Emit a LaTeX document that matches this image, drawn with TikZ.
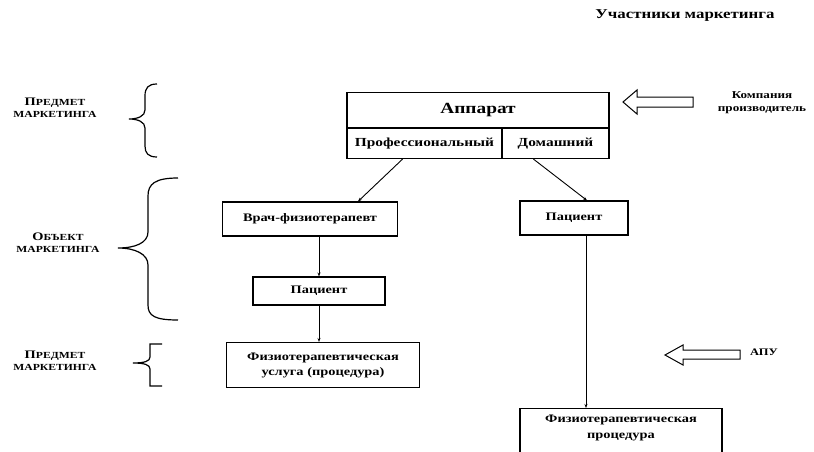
\documentclass[tikz,border=0pt]{standalone}
\usepackage{fontspec}
\setmainfont{Liberation Serif}[FakeStretch=1.25]
\usetikzlibrary{calc,arrows.meta}
\begin{document}
\begin{tikzpicture}[x=1pt,y=-1pt,
  box/.style={draw,line width=1.1pt,inner sep=0pt,font=\bfseries\fontsize{11.5}{13}\selectfont,align=center},
  txt/.style={inner sep=0pt,font=\bfseries\fontsize{11.5}{16}\selectfont,align=center},
  side/.style={inner sep=0pt,font=\bfseries\fontsize{9.3}{12}\selectfont,align=center},
  conn/.style={line width=0.9pt,-{Stealth[length=4pt,width=3pt]}},
  brace/.style={line width=1.2pt},
  hollow/.style={line width=1pt,line join=miter}]
\useasboundingbox (0,0) rectangle (814,452);
\fill[white] (0,0) rectangle (814,452);

% title
\node[txt,font=\bfseries\fontsize{13.5}{15}\selectfont] (title) at (685,16) {Участники маркетинга};

% apparatus block
\node[box,minimum width=262,minimum height=35,font=\bfseries\fontsize{15.5}{17}\selectfont] (app) at (478,110) {Аппарат};
\node[box,minimum width=155,minimum height=30,anchor=north west,font=\bfseries\fontsize{12.3}{14}\selectfont] (prof) at (app.south west) {Профессиональный};
\node[box,minimum width=107,minimum height=30,anchor=north east,font=\bfseries\fontsize{12.3}{14}\selectfont] (dom) at (app.south east) {Домашний};

% left branch
\node[box,minimum width=175,minimum height=34] (vrach) at (310,219) {Врач-физиотерапевт};
\node[box,minimum width=132,minimum height=28] (pat1) at (319,291) {Пациент};
\node[box,minimum width=193,minimum height=45] (usl) at (323,365) {Физиотерапевтическая\\[2pt]услуга (процедура)};

% right branch
\node[box,minimum width=108,minimum height=34] (pat2) at (574,218) {Пациент};
\node[box,minimum width=202,minimum height=60,anchor=north] (fp) at (621,408) {};
\node[txt] (fpt) at (621,428) {Физиотерапевтическая\\процедура};

% connectors
\draw[conn] ($(prof.south)+(-22,0)$) -- ($(vrach.north)+(48,0)$);
\draw[conn] ($(dom.south)+(-22,0)$) -- ($(pat2.north)+(13,0)$);
\draw[conn] (pat1.north |- vrach.south) -- (pat1.north);
\draw[conn] (pat1.south) coordinate (u1) -- (u1 |- usl.north);
\draw[conn] ($(pat2.south)+(12,0)$) coordinate (v1) -- (v1 |- fp.north);

% hollow arrows
\draw[hollow] (623,102) -- (637,90) -- (637,97) -- (693,97) -- (693,107) -- (637,107) -- (637,114) -- cycle;
\node[txt,font=\bfseries\fontsize{10.5}{13}\selectfont] (comp) at (762,103) {Компания\\производитель};
\draw[hollow] (665,355) -- (683,345) -- (683,350) -- (740,350) -- (740,359) -- (683,359) -- (683,365) -- cycle;
\node[txt,font=\bfseries\fontsize{10}{12}\selectfont] (apu) at (764,352) {АПУ};

% side labels
\node[side] (l1) at (55,108) {{\fontsize{11.5}{12}\selectfont П}РЕДМЕТ\\МАРКЕТИНГА};
\node[side] (l2) at (58,243) {{\fontsize{11.5}{12}\selectfont О}БЪЕКТ\\МАРКЕТИНГА};
\node[side] (l3) at (55,361) {{\fontsize{11.5}{12}\selectfont П}РЕДМЕТ\\МАРКЕТИНГА};

% braces
\draw[brace] (157,84) .. controls (148,84) and (145,88) .. (145,96) -- (145,110)
  .. controls (145,116) and (138,119) .. (129,119)
  .. controls (138,119) and (145,122) .. (145,128) -- (145,146)
  .. controls (145,153) and (148,157) .. (157,157);
\draw[brace] (178,178) .. controls (155,178) and (148,184) .. (148,196) -- (148,232)
  .. controls (148,243) and (135,248) .. (118,248)
  .. controls (135,248) and (148,254) .. (148,265) -- (148,305)
  .. controls (148,316) and (155,320) .. (178,320);
\draw[brace] (162,344) -- (150,344) -- (150,357) .. controls (150,361) and (145,363) .. (133,363)
  .. controls (145,363) and (150,365) .. (150,369) -- (150,386) -- (162,386);
\end{tikzpicture}
\end{document}
